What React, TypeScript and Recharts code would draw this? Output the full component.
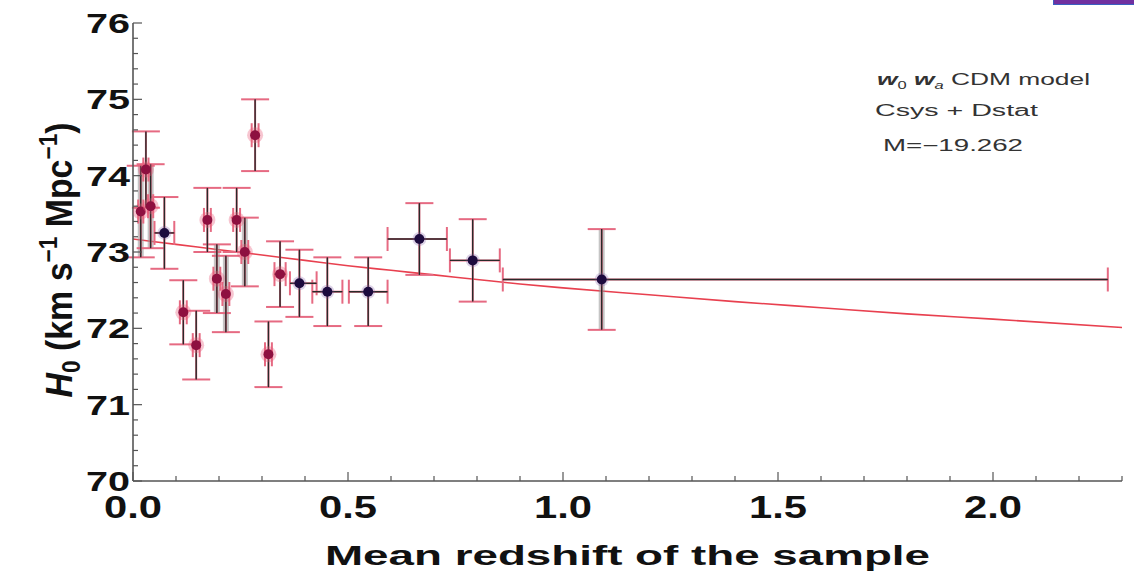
import React from 'react';
import { ComposedChart, XAxis, YAxis, Scatter, Line, ErrorBar } from 'recharts';

// ---- data ----
const redshift = [0.018, 0.030, 0.041, 0.073, 0.117, 0.147, 0.173, 0.195, 0.216, 0.241, 0.260, 0.284, 0.315, 0.342, 0.387, 0.452, 0.547, 0.666, 0.790, 1.090];
const h0Values = [73.53, 74.08, 73.60, 73.25, 72.21, 71.78, 73.42, 72.65, 72.45, 73.42, 73.00, 74.53, 71.66, 72.71, 72.59, 72.48, 72.48, 73.17, 72.89, 72.64];
const h0Errors = [0.60, 0.50, 0.55, 0.47, 0.42, 0.45, 0.42, 0.45, 0.50, 0.42, 0.45, 0.47, 0.43, 0.43, 0.44, 0.45, 0.45, 0.47, 0.54, 0.66];
const h0BandErrors = [0.60, 0.0, 0.55, 0.0, 0.0, 0.0, 0.0, 0.45, 0.50, 0.0, 0.45, 0.0, 0.0, 0.0, 0.0, 0.0, 0.0, 0.0, 0.0, 0.66];
const zErrLow = [0.006, 0.006, 0.006, 0.023, 0.008, 0.008, 0.008, 0.008, 0.008, 0.008, 0.008, 0.008, 0.008, 0.013, 0.022, 0.035, 0.045, 0.074, 0.053, 0.230];
const zErrHigh = [0.006, 0.006, 0.006, 0.023, 0.008, 0.008, 0.008, 0.008, 0.008, 0.008, 0.008, 0.008, 0.008, 0.013, 0.040, 0.035, 0.045, 0.064, 0.063, 1.177];
const pointKind = ['r', 'r', 'r', 'b', 'r', 'r', 'r', 'r', 'r', 'r', 'r', 'r', 'r', 'r', 'b', 'b', 'b', 'b', 'b', 'b'];

const curveZ = [0, 0.1, 0.2, 0.3, 0.4, 0.5, 0.6, 0.7, 0.8, 0.9, 1.0, 1.2, 1.4, 1.6, 1.8, 2.0, 2.3];
const curveH0 = [73.17, 73.10, 73.03, 72.96, 72.89, 72.82, 72.76, 72.70, 72.64, 72.58, 72.53, 72.44, 72.35, 72.27, 72.19, 72.12, 72.01];

const xTicks = [0, 0.1, 0.2, 0.3, 0.4, 0.5, 0.6, 0.7, 0.8, 0.9, 1.0, 1.1, 1.2, 1.3, 1.4, 1.5, 1.6, 1.7, 1.8, 1.9, 2.0, 2.1, 2.2, 2.3];
const xMajorTicks = [0, 0.5, 1.0, 1.5, 2.0];
const xMajorLabels = ['0.0', '0.5', '1.0', '1.5', '2.0'];
const yTicks = [70, 70.2, 70.4, 70.6, 70.8, 71, 71.2, 71.4, 71.6, 71.8, 72, 72.2, 72.4, 72.6, 72.8, 73, 73.2, 73.4, 73.6, 73.8, 74, 74.2, 74.4, 74.6, 74.8, 75, 75.2, 75.4, 75.6, 75.8, 76];
const yMajorTicks = [70, 71, 72, 73, 74, 75, 76];
const yMajorLabels = ['70', '71', '72', '73', '74', '75', '76'];

const points = redshift.map((z, i) => ({
  z,
  h: h0Values[i],
  hErr: h0Errors[i],
  hBand: h0BandErrors[i],
  zErr: [zErrLow[i], zErrHigh[i]],
  kind: pointKind[i],
}));
const curve = curveZ.map((z, i) => ({ z, h: curveH0[i] }));

// ---- layout ----
const W = 1134;
const H = 574;
const PLOT_LEFT = 133;
const PLOT_RIGHT = 1122;
const PLOT_TOP = 23;
const PLOT_BOTTOM = 481;
const FONT = '"Liberation Sans", Arial, Helvetica, sans-serif';
const AXIS_COLOR = '#555';

const majorIndex = (v: number, majors: number[]) => majors.findIndex((m) => Math.abs(m - v) < 1e-6);

const BottomTick = (props: any) => {
  const { x, payload } = props;
  const idx = majorIndex(payload.value, xMajorTicks);
  const major = idx >= 0;
  return (
    <g>
      <line x1={x} x2={x} y1={PLOT_BOTTOM} y2={PLOT_BOTTOM - (major ? 9 : 5)} stroke={AXIS_COLOR} strokeWidth={1.2} />
      {major && (
        <text x={x} y={PLOT_BOTTOM + 37} textAnchor="middle" fontSize={32} fontWeight="bold" fontFamily={FONT} fill="#111" textLength={58} lengthAdjust="spacingAndGlyphs">
          {xMajorLabels[idx]}
        </text>
      )}
    </g>
  );
};

const TopTick = (props: any) => {
  const { x, payload } = props;
  const major = majorIndex(payload.value, xMajorTicks) >= 0;
  return <line x1={x} x2={x} y1={PLOT_TOP} y2={PLOT_TOP + (major ? 9 : 5)} stroke={AXIS_COLOR} strokeWidth={1.2} />;
};

const LeftTick = (props: any) => {
  const { y, payload } = props;
  const idx = majorIndex(payload.value, yMajorTicks);
  const major = idx >= 0;
  return (
    <g>
      <line x1={PLOT_LEFT} x2={PLOT_LEFT + (major ? 9 : 5)} y1={y} y2={y} stroke={AXIS_COLOR} strokeWidth={1.2} />
      {major && (
        <text x={130} y={y + 10} textAnchor="end" fontSize={28} fontWeight="bold" fontFamily={FONT} fill="#111" textLength={44} lengthAdjust="spacingAndGlyphs">
          {yMajorLabels[idx]}
        </text>
      )}
    </g>
  );
};

const RightTick = (props: any) => {
  const { y, payload } = props;
  const major = majorIndex(payload.value, yMajorTicks) >= 0;
  return <line x1={PLOT_RIGHT} x2={PLOT_RIGHT - (major ? 9 : 5)} y1={y} y2={y} stroke={AXIS_COLOR} strokeWidth={1.2} />;
};

const PointShape = (props: any) => {
  const { cx, cy, payload } = props;
  if (cx == null || cy == null) return null;
  if (payload.kind === 'r') {
    return (
      <g>
        <circle cx={cx} cy={cy} r={8} fill="rgba(232,90,120,0.35)" />
        <circle cx={cx} cy={cy} r={5} fill="#8e1040" />
      </g>
    );
  }
  return (
    <g>
      <circle cx={cx} cy={cy} r={7} fill="rgba(120,80,160,0.25)" />
      <circle cx={cx} cy={cy} r={5} fill="#1d0b3e" />
    </g>
  );
};

export default function App() {
  return (
    <div style={{ position: 'absolute', left: 0, top: 0, width: W, height: H, background: '#fff' }}>
      <ComposedChart width={W} height={H} margin={{ top: PLOT_TOP, right: W - PLOT_RIGHT, bottom: 0, left: 0 }}>
        <XAxis
          xAxisId="b"
          type="number"
          dataKey="z"
          domain={[0, 2.3]}
          ticks={xTicks}
          interval={0}
          tick={<BottomTick />}
          tickLine={false}
          axisLine={{ stroke: AXIS_COLOR, strokeWidth: 1.6 }}
          height={H - PLOT_BOTTOM}
          allowDataOverflow
        />
        <XAxis
          xAxisId="t"
          orientation="top"
          type="number"
          dataKey="z"
          domain={[0, 2.3]}
          ticks={xTicks}
          interval={0}
          tick={<TopTick />}
          tickLine={false}
          axisLine={{ stroke: AXIS_COLOR, strokeWidth: 1.6 }}
          height={0}
          allowDataOverflow
        />
        <YAxis
          yAxisId="l"
          type="number"
          dataKey="h"
          domain={[70, 76]}
          ticks={yTicks}
          interval={0}
          tick={<LeftTick />}
          tickLine={false}
          axisLine={{ stroke: AXIS_COLOR, strokeWidth: 1.6 }}
          width={PLOT_LEFT}
          allowDataOverflow
        />
        <YAxis
          yAxisId="r"
          orientation="right"
          type="number"
          dataKey="h"
          domain={[70, 76]}
          ticks={yTicks}
          interval={0}
          tick={<RightTick />}
          tickLine={false}
          axisLine={{ stroke: AXIS_COLOR, strokeWidth: 1.6 }}
          width={0}
          allowDataOverflow
        />
        <Line
          xAxisId="b"
          yAxisId="l"
          data={curve}
          dataKey="h"
          type="monotone"
          stroke="#e8404f"
          strokeWidth={1.6}
          dot={false}
          activeDot={false}
          isAnimationActive={false}
        />
        <Scatter xAxisId="b" yAxisId="l" data={points} dataKey="h" shape={<PointShape />} isAnimationActive={false}>
          <ErrorBar dataKey="hBand" direction="y" width={0} stroke="rgba(150,150,150,0.55)" strokeWidth={6} isAnimationActive={false} />
          <ErrorBar dataKey="zErr" direction="x" width={12} stroke="#e66a82" strokeWidth={2} isAnimationActive={false} />
          <ErrorBar dataKey="hErr" direction="y" width={14} stroke="#e66a82" strokeWidth={2} isAnimationActive={false} />
          <ErrorBar dataKey="zErr" direction="x" width={0} stroke="#2a2a2a" strokeWidth={1.4} isAnimationActive={false} />
          <ErrorBar dataKey="hErr" direction="y" width={0} stroke="#2a2a2a" strokeWidth={1.4} isAnimationActive={false} />
        </Scatter>
      </ComposedChart>

      <svg width={W} height={H} style={{ position: 'absolute', left: 0, top: 0, pointerEvents: 'none' }}>
        {/* axis titles */}
        <text x={(PLOT_LEFT + PLOT_RIGHT) / 2} y={565} textAnchor="middle" fontSize={28} fontWeight="bold" fontFamily={FONT} fill="#111" textLength={605} lengthAdjust="spacingAndGlyphs">
          Mean redshift of the sample
        </text>
        <g transform={`translate(72, 260) scale(1.25, 1) rotate(-90)`}>
          <text x={0} y={0} textAnchor="middle" fontSize={30} fontWeight="bold" fontFamily={FONT} fill="#111" textLength={275} lengthAdjust="spacingAndGlyphs">
            <tspan fontStyle="italic">H</tspan>
            <tspan fontSize={20} dy={6}>0</tspan>
            <tspan dy={-6}> (km s</tspan>
            <tspan fontSize={20} dy={-12}>−1</tspan>
            <tspan dy={12}> Mpc</tspan>
            <tspan fontSize={20} dy={-12}>−1</tspan>
            <tspan dy={12}>)</tspan>
          </text>
        </g>
        {/* annotation */}
        <text x={877} y={85} fontSize={16} fontFamily={FONT} fill="#333" textLength={213} lengthAdjust="spacingAndGlyphs">
          <tspan fontWeight="bold" fontStyle="italic">w</tspan>
          <tspan fontSize={10} dy={4}>0</tspan>
          <tspan dy={-4}> </tspan>
          <tspan fontWeight="bold" fontStyle="italic">w</tspan>
          <tspan fontSize={10} dy={4} fontStyle="italic">a</tspan>
          <tspan dy={-4}> CDM model</tspan>
        </text>
        <text x={875} y={116} fontSize={16} fontFamily={FONT} fill="#333" textLength={163} lengthAdjust="spacingAndGlyphs">
          Csys + Dstat
        </text>
        <text x={883} y={151} fontSize={16} fontFamily={FONT} fill="#333" textLength={140} lengthAdjust="spacingAndGlyphs">
          M=−19.262
        </text>
      </svg>

      <div style={{ position: 'absolute', left: 1053, top: 0, width: 81, height: 4, background: '#7030a0', borderLeft: '1px solid #3a5fc0', borderBottom: '1px solid #3a5fc0' }} />
    </div>
  );
}
